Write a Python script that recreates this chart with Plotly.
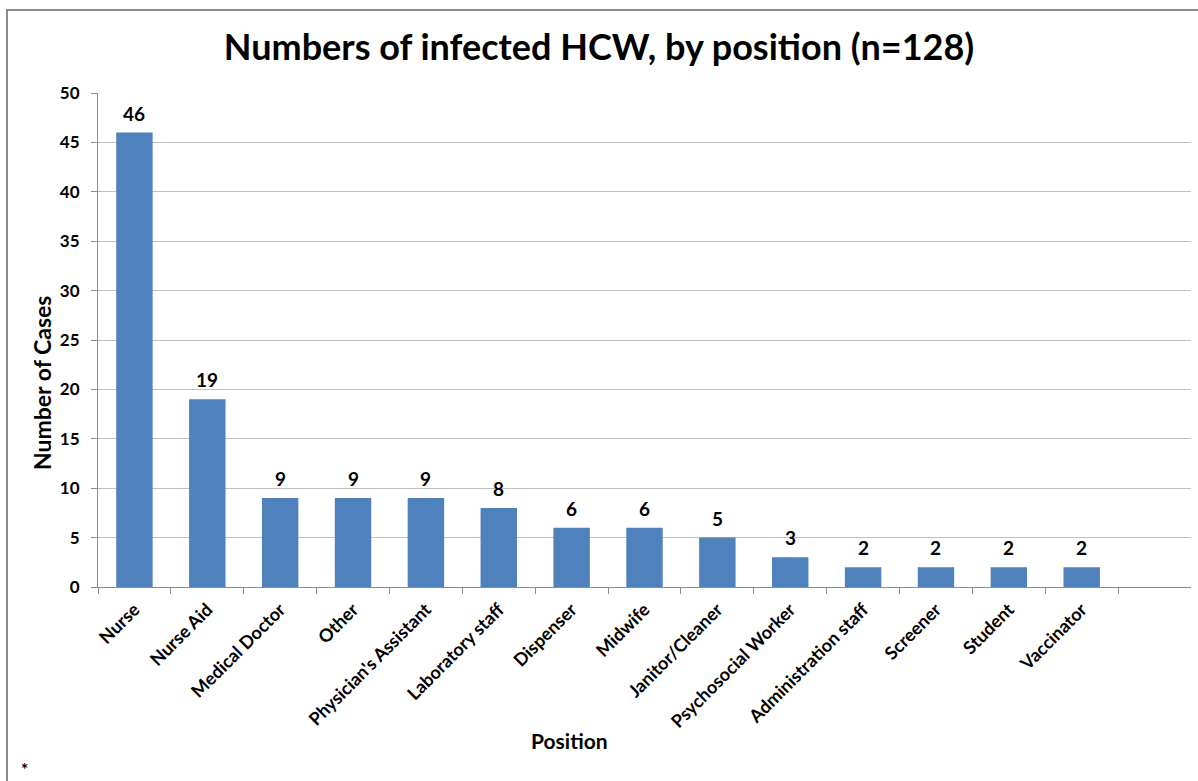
import plotly.graph_objects as go

# Infected health-care workers by position
positions = ["Nurse", "Nurse Aid", "Medical Doctor", "Other", "Physician's Assistant",
             "Laboratory staff", "Dispenser", "Midwife", "Janitor/Cleaner",
             "Psychosocial Worker", "Administration staff", "Screener", "Student",
             "Vaccinator"]
cases = [46, 19, 9, 9, 9, 8, 6, 6, 5, 3, 2, 2, 2, 2]
y_ticks = list(range(0, 51, 5))

FONT = "Lato, 'Open Sans', sans-serif"
BAR_COLOR = "#4F81BD"

fig = go.Figure()
fig.add_trace(go.Bar(
    x=positions,
    y=cases,
    marker=dict(color=BAR_COLOR, line=dict(width=0)),
    width=0.5,
))

# value labels above each bar
for pos, val in zip(positions, cases):
    fig.add_annotation(
        x=pos, y=val, xref="x", yref="y",
        text=f"<b>{val}</b>", showarrow=False,
        xanchor="center", yanchor="bottom", yshift=6,
        font=dict(family=FONT, size=19, color="black"),
    )

fig.update_layout(
    width=1198,
    height=781,
    paper_bgcolor="white",
    plot_bgcolor="white",
    margin=dict(l=98, r=7, t=93, b=194),
    showlegend=False,
    title=dict(
        text="<b>Numbers of infected HCW, by position (n=128)</b>",
        x=0.5, xanchor="center",
        y=1 - 47 / 781, yanchor="middle",
        font=dict(family=FONT, size=36, color="black"),
    ),
    font=dict(family=FONT, color="black"),
)

fig.update_xaxes(
    type="category",
    range=[-0.5, 14.5],
    tickson="boundaries",
    ticks="outside",
    ticklen=6,
    tickcolor="#8c8c8c",
    tickangle=-45,
    ticklabelstandoff=4,
    tickfont=dict(family=FONT, size=18, color="black", weight="bold"),
    showline=True,
    linecolor="#8c8c8c",
    linewidth=1,
    showgrid=False,
)

fig.update_yaxes(
    range=[0, 50],
    tickvals=y_ticks,
    ticks="outside",
    ticklen=6,
    tickcolor="#8c8c8c",
    ticklabelstandoff=8,
    tickfont=dict(family=FONT, size=17, color="black", weight="bold"),
    showline=True,
    linecolor="#8c8c8c",
    linewidth=1,
    showgrid=True,
    gridcolor="#c0c0c0",
    gridwidth=1,
    zeroline=False,
)

plot_w = 1198 - 98 - 7
plot_h = 781 - 93 - 194

# y-axis title
fig.add_annotation(
    text="<b>Number of Cases</b>", xref="paper", yref="paper",
    x=(42 - 98) / plot_w, y=(587 - 383) / plot_h,
    xanchor="center", yanchor="middle", showarrow=False, textangle=-90,
    font=dict(family=FONT, size=23, color="black"),
)

# x-axis title
fig.add_annotation(
    text="<b>Position</b>", xref="paper", yref="paper",
    x=(569.5 - 98) / plot_w, y=-(740 - 587) / plot_h,
    xanchor="center", yanchor="middle", showarrow=False,
    font=dict(family=FONT, size=21, color="black"),
)

# footnote marker
fig.add_annotation(
    text="<b>*</b>", xref="paper", yref="paper",
    x=(24 - 98) / plot_w, y=-(757 - 587) / plot_h,
    xanchor="center", yanchor="top", showarrow=False,
    font=dict(family=FONT, size=17, color="black"),
)

# outer chart frame (left and top edges visible)
fig.add_shape(
    type="rect", xref="paper", yref="paper",
    x0=(7 - 98) / plot_w, x1=1.2,
    y0=-1.0, y1=(587 - 10) / plot_h,
    line=dict(color="#8c8c8c", width=2), fillcolor="rgba(0,0,0,0)",
    layer="below",
)

fig.write_html("out.html")
